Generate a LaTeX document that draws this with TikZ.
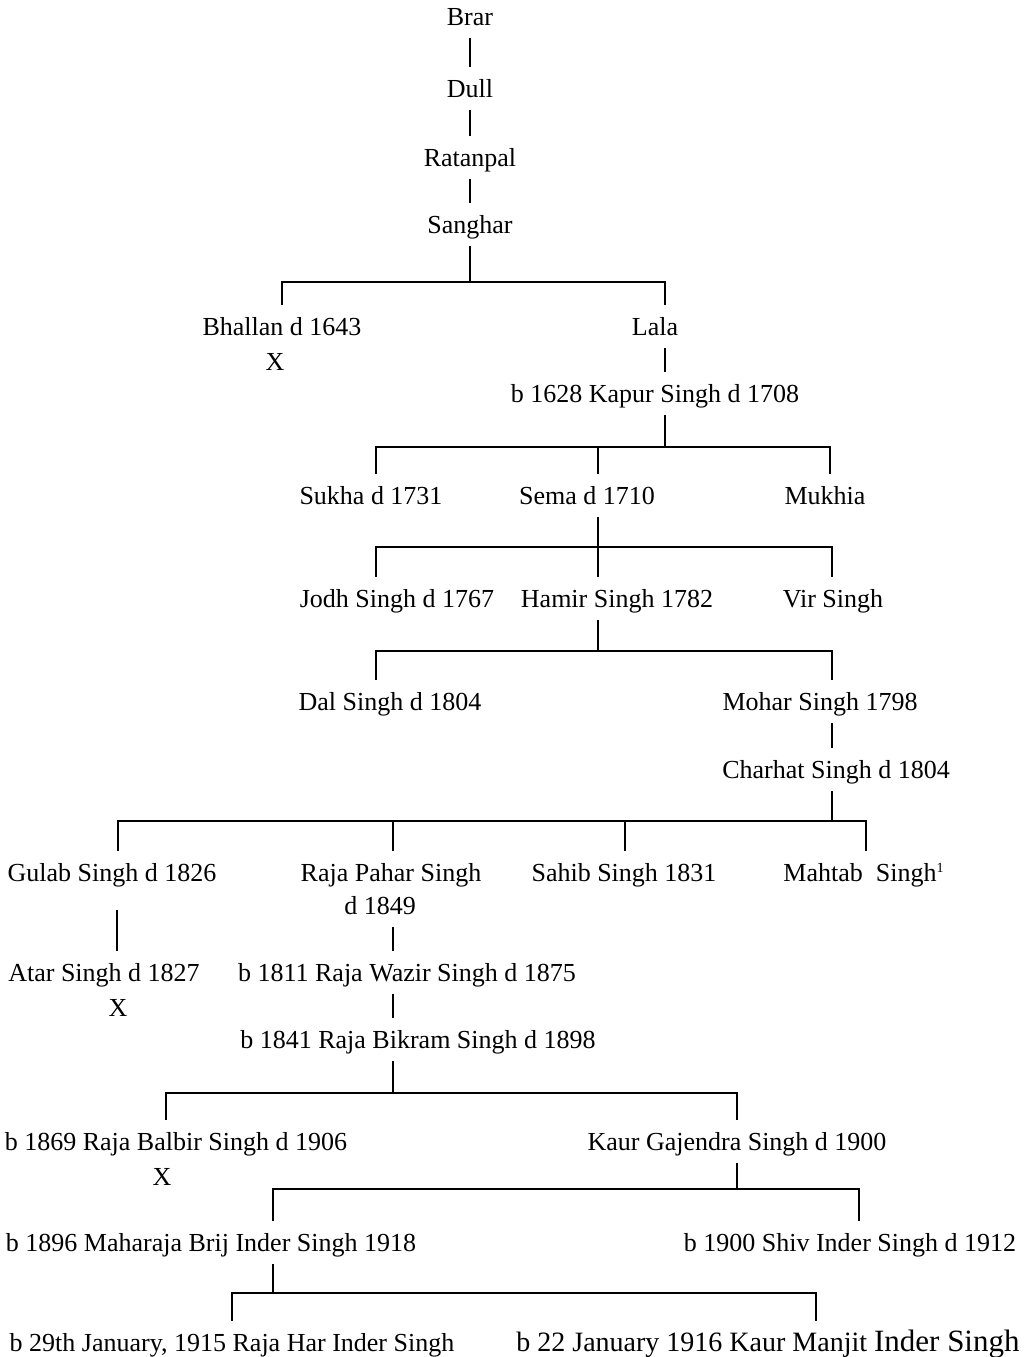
\documentclass[tikz,border=0pt]{standalone}
\usepackage{fontspec}
\setmainfont{Liberation Serif}
\begin{document}
\begin{tikzpicture}[x=0.5pt,y=-0.5pt,line width=1.4pt,line join=miter,
  font=\fontsize{13}{15}\selectfont,
  person/.style={anchor=base,inner xsep=0pt,inner ysep=6pt,text height=8.5pt,text depth=0pt}]
\useasboundingbox (0,0) rectangle (1029,1357);
\node[person](brar) at (470,25){Brar};
\node[person](dull) at (470,97){Dull};
\node[person](ratanpal) at (470,166){Ratanpal};
\node[person](sanghar) at (470,233){Sanghar};
\node[person](bhallan) at (282,335){Bhallan d 1643};
\node[person](x1) at (275,370){X};
\node[person](lala) at (655,335){Lala};
\node[person](kapur) at (655,402){b 1628 Kapur Singh d 1708};
\node[person](sukha) at (371,504){Sukha d 1731};
\node[person](sema) at (587,504){Sema d 1710};
\node[person](mukhia) at (825,504){Mukhia};
\node[person](jodh) at (397,607){Jodh Singh d 1767};
\node[person](hamir) at (617,607){Hamir Singh 1782};
\node[person](vir) at (833,607){Vir Singh};
\node[person](dal) at (390,710){Dal Singh d 1804};
\node[person](mohar) at (820,710){Mohar Singh 1798};
\node[person](charhat) at (836,778){Charhat Singh d 1804};
\node[person](gulab) at (112,881){Gulab Singh d 1826};
\node[person](pahar) at (391,881){Raja Pahar Singh};
\node[person](pahard) at (380,914){d 1849};
\node[person](sahib) at (624,881){Sahib Singh 1831};
\node[person](mahtab) at (864,881){Mahtab\enspace Singh\textsuperscript{\scriptsize 1}};
\node[person](atar) at (104,981){Atar Singh d 1827};
\node[person](x2) at (118,1016){X};
\node[person](wazir) at (407,981){b 1811 Raja Wazir Singh d 1875};
\node[person](bikram) at (418,1048){b 1841 Raja Bikram Singh d 1898};
\node[person](balbir) at (176,1150){b 1869 Raja Balbir Singh d 1906};
\node[person](x3) at (162,1185){X};
\node[person](gajendra) at (737,1150){Kaur Gajendra Singh d 1900};
\node[person](brij) at (211,1251){b 1896 Maharaja Brij Inder Singh 1918};
\node[person](shiv) at (850,1251){b 1900 Shiv Inder Singh d 1912};
\node[person](har) at (232,1351){b 29th January, 1915 Raja Har Inder Singh};
\node[person,font=\fontsize{14}{16}\selectfont](manjit) at (768,1351){b 22 January 1916 Kaur Manjit {\fontsize{15.5}{17}\selectfont Inder Singh}};
\coordinate(b1) at (0,282);
\coordinate(b2) at (0,447);
\coordinate(b3) at (0,547);
\coordinate(b4) at (0,651);
\coordinate(b5) at (0,821);
\coordinate(b6) at (0,1093);
\coordinate(b7) at (0,1189);
\coordinate(b8) at (0,1293);
\coordinate(gstem) at (117,910);
\draw(brar)--(dull);
\draw(dull)--(ratanpal);
\draw(ratanpal)--(sanghar);
\draw(sanghar.south)--(b1-|470,0);
\draw(bhallan.north-|282,0)|-(b1-|665,0)--(lala.north-|665,0);
\draw(lala.south-|665,0)--(kapur.north-|665,0);
\draw(kapur.south-|665,0)--(b2-|665,0);
\draw(sukha.north-|376,0)|-(b2-|830,0)--(mukhia.north-|830,0);
\draw(b2-|598,0)--(sema.north-|598,0);
\draw(sema.south-|598,0)--(hamir.north-|598,0);
\draw(jodh.north-|376,0)|-(b3-|832,0)--(vir.north-|832,0);
\draw(hamir.south-|598,0)--(b4-|598,0);
\draw(dal.north-|376,0)|-(b4-|832,0)--(mohar.north-|832,0);
\draw(mohar.south-|832,0)--(charhat.north-|832,0);
\draw(charhat.south-|832,0)--(b5-|832,0);
\draw(gulab.north-|118,0)|-(b5-|866,0)--(mahtab.north-|866,0);
\foreach \n/\x in{pahar/393,sahib/625}
\draw(b5-|\x,0)--(\n.north-|\x,0);
\draw(gstem)--(atar.north-|gstem);
\draw(pahard.south-|393,0)--(wazir.north-|393,0);
\draw(wazir.south-|393,0)--(bikram.north-|393,0);
\draw(bikram.south-|393,0)--(b6-|393,0);
\draw(balbir.north-|166,0)|-(b6-|737,0)--(gajendra.north-|737,0);
\draw(gajendra.south-|737,0)--(b7-|737,0);
\draw(brij.north-|273,0)|-(b7-|859,0)--(shiv.north-|859,0);
\draw(brij.south-|273,0)--(b8-|273,0);
\draw(har.north-|232,0)|-(b8-|816,0)--(manjit.north-|816,0);
\end{tikzpicture}
\end{document}
